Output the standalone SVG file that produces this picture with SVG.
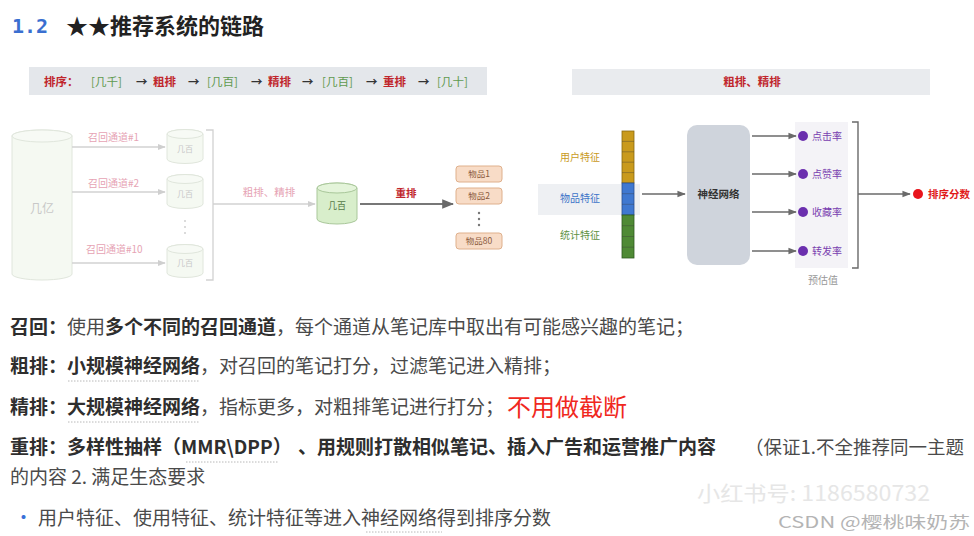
<svg xmlns="http://www.w3.org/2000/svg" width="974" height="536" viewBox="0 0 974 536">
<defs>
<style>
text{font-family:"Noto Sans CJK SC","Noto Sans",sans-serif;}
.sm{font-size:10px;}
.pink{fill:#e6a3b4;}
.fade{fill:#c8c8c8;}
.cylF{fill:#f5f9f2;stroke:#e0e6dc;stroke-width:1;}
.ln{stroke:#d2d2d2;stroke-width:1.3;fill:none;}
.dk{stroke:#6a6a6a;stroke-width:1.4;fill:none;}
.item rect{fill:#f8dcc7;stroke:#dfb08c;stroke-width:1;}
.item text{font-size:8.5px;fill:#8a5a3c;text-anchor:middle;}
.pur{font-size:10px;fill:#7a3fb0;}
.body{font-size:19px;fill:#4a4a4a;}
.b{font-weight:bold;fill:#2e2e2e;}
.ul{stroke:#b8b8b8;stroke-width:1;stroke-dasharray:1.5 1.5;}
</style>
<marker id="ah" viewBox="0 0 10 10" refX="9" refY="5" markerWidth="6" markerHeight="6" orient="auto">
<path d="M0,1 L10,5 L0,9 z" fill="#6a6a6a"/>
</marker>
<marker id="ahl" viewBox="0 0 10 10" refX="9" refY="5" markerWidth="6" markerHeight="6" orient="auto">
<path d="M0,1 L10,5 L0,9 z" fill="#cfcfcf"/>
</marker>
</defs>
<rect width="974" height="536" fill="#ffffff"/>

<!-- title -->
<g id="title">
<text x="12" y="33" font-size="20" font-weight="bold" fill="#3a6fd0" style="font-family:'DejaVu Sans Mono',monospace">1.2</text>
<text x="66" y="34" font-size="22" font-weight="bold" fill="#222">★★推荐系统的链路</text>
</g>

<!-- left banner -->
<g id="banner-left">
<rect x="29" y="67" width="458" height="28" fill="#e4e7eb"/>
<text y="86" font-size="11.5" font-weight="bold">
<tspan x="44" fill="#c0262c">排序：</tspan>
<tspan x="91" fill="#5f9a50" font-weight="normal">[几千]</tspan>
<tspan x="136" fill="#333">→</tspan>
<tspan x="153" fill="#c0262c">粗排</tspan>
<tspan x="188" fill="#333">→</tspan>
<tspan x="207" fill="#5f9a50" font-weight="normal">[几百]</tspan>
<tspan x="251" fill="#333">→</tspan>
<tspan x="268" fill="#c0262c">精排</tspan>
<tspan x="302" fill="#333">→</tspan>
<tspan x="322" fill="#5f9a50" font-weight="normal">[几百]</tspan>
<tspan x="366" fill="#333">→</tspan>
<tspan x="383" fill="#c0262c">重排</tspan>
<tspan x="418" fill="#333">→</tspan>
<tspan x="437" fill="#5f9a50" font-weight="normal">[几十]</tspan>
</text>
</g>

<!-- left diagram nodes -->
<g id="pool">
<path class="cylF" d="M12 136 A30 6 0 0 1 72 136 V274 A30 6 0 0 1 12 274 Z"/>
<ellipse cx="42" cy="136" rx="30" ry="6" fill="#f7faf5" stroke="#e0e6dc"/>
<text x="42" y="213" font-size="12" class="fade" text-anchor="middle">几亿</text>
</g>
<g id="recall1">
<path class="cylF" d="M167 134 A18 4.5 0 0 1 203 134 V159 A18 4.5 0 0 1 167 159 Z"/>
<ellipse cx="185" cy="134" rx="18" ry="4.5" fill="#f7faf5" stroke="#e0e6dc"/>
<text x="185" y="152" font-size="8" class="fade" text-anchor="middle">几百</text>
</g>
<g id="recall2">
<path class="cylF" d="M167 179 A18 4.5 0 0 1 203 179 V204 A18 4.5 0 0 1 167 204 Z"/>
<ellipse cx="185" cy="179" rx="18" ry="4.5" fill="#f7faf5" stroke="#e0e6dc"/>
<text x="185" y="197" font-size="8" class="fade" text-anchor="middle">几百</text>
</g>
<g id="recall-dots">
<circle cx="185" cy="221" r="1" fill="#cfcfcf"/>
<circle cx="185" cy="227" r="1" fill="#cfcfcf"/>
<circle cx="185" cy="233" r="1" fill="#cfcfcf"/>
</g>
<g id="recall10">
<path class="cylF" d="M167 249 A18 4.5 0 0 1 203 249 V273 A18 4.5 0 0 1 167 273 Z"/>
<ellipse cx="185" cy="249" rx="18" ry="4.5" fill="#f7faf5" stroke="#e0e6dc"/>
<text x="185" y="266" font-size="8" class="fade" text-anchor="middle">几百</text>
</g>
<g id="merged">
<path d="M317 188 A20 5 0 0 1 357 188 V219 A20 5 0 0 1 317 219 Z" fill="#d8eecb" stroke="#a9c79a"/>
<ellipse cx="337" cy="188" rx="20" ry="5" fill="#e4f4da" stroke="#a9c79a"/>
<text x="337" y="209" font-size="9" fill="#557a48" text-anchor="middle">几百</text>
</g>
<g id="items">
<g class="item" id="item1"><rect x="456" y="166" width="46" height="16" rx="3"/><text x="479" y="177">物品1</text></g>
<g class="item" id="item2"><rect x="456" y="188" width="46" height="16" rx="3"/><text x="479" y="199">物品2</text></g>
<g id="item-dots">
<circle cx="479" cy="213" r="1.2" fill="#777"/>
<circle cx="479" cy="219" r="1.2" fill="#777"/>
<circle cx="479" cy="225" r="1.2" fill="#777"/>
</g>
<g class="item" id="item80"><rect x="456" y="233" width="46" height="16" rx="3"/><text x="479" y="244">物品80</text></g>
</g>

<!-- right banner -->
<g id="banner-right">
<rect x="572" y="69" width="358" height="26" fill="#e9ebee"/>
<text x="752" y="86" font-size="11.5" font-weight="bold" fill="#c0262c" text-anchor="middle">粗排、精排</text>
</g>

<g id="features">
<rect x="538" y="184" width="102" height="31" fill="#eef0f3"/>
<text x="580" y="161" font-size="10" fill="#c99a1c" text-anchor="middle">用户特征</text>
<text x="580" y="202" font-size="10" fill="#3c74c8" text-anchor="middle">物品特征</text>
<text x="580" y="239" font-size="10" fill="#5d9142" text-anchor="middle">统计特征</text>
<rect x="622" y="131" width="12" height="52" fill="#c99a1c" stroke="#8a6a10" stroke-width="0.8"/>
<rect x="622" y="183" width="12" height="32" fill="#3f78d0" stroke="#2a4f90" stroke-width="0.8"/>
<rect x="622" y="215" width="12" height="43" fill="#4f8a35" stroke="#2f5a20" stroke-width="0.8"/>
<path d="M622 141.4H634M622 151.8H634M622 162.2H634M622 172.6H634M622 193.7H634M622 204.3H634M622 225.7H634M622 236.5H634M622 247.2H634" stroke="#3a3a3a" stroke-width="0.6" opacity="0.6"/>
</g>

<g id="nn">
<rect x="687" y="125" width="63" height="140" rx="10" fill="#cfd4dc"/>
<text x="718.5" y="198" font-size="10.5" font-weight="bold" fill="#333" text-anchor="middle">神经网络</text>
</g>

<g id="outputs">
<rect x="795" y="122" width="53" height="146" fill="#f4f3f7"/>
<circle cx="803" cy="136" r="5" fill="#6b2fae"/>
<text x="812" y="140" class="pur">点击率</text>
<circle cx="803" cy="174" r="5" fill="#6b2fae"/>
<text x="812" y="178" class="pur">点赞率</text>
<circle cx="803" cy="212" r="5" fill="#6b2fae"/>
<text x="812" y="216" class="pur">收藏率</text>
<circle cx="803" cy="251" r="5" fill="#6b2fae"/>
<text x="812" y="255" class="pur">转发率</text>
<text x="823" y="284" font-size="10" fill="#999" text-anchor="middle">预估值</text>
</g>

<g id="score">
<circle cx="918" cy="194" r="5" fill="#e8141c"/>
<text x="928" y="198" font-size="10.5" font-weight="bold" fill="#e01a1a">排序分数</text>
</g>

<!-- connectors -->
<g id="connectors">
<line class="ln" x1="72" y1="147" x2="165" y2="147" marker-end="url(#ahl)"/>
<line class="ln" x1="72" y1="192" x2="165" y2="192" marker-end="url(#ahl)"/>
<line class="ln" x1="72" y1="263" x2="165" y2="263" marker-end="url(#ahl)"/>
<path class="ln" d="M206 130H213V280H206M213 204H217"/>
<line class="ln" x1="217" y1="204" x2="315" y2="204" marker-end="url(#ahl)"/>
<line x1="360" y1="204" x2="453" y2="204" stroke="#777" stroke-width="2" marker-end="url(#ah)"/>
<line class="dk" x1="642" y1="194" x2="685" y2="194" marker-end="url(#ah)"/>
<line class="dk" x1="752" y1="136" x2="796" y2="136" marker-end="url(#ah)"/>
<line class="dk" x1="752" y1="174" x2="796" y2="174" marker-end="url(#ah)"/>
<line class="dk" x1="752" y1="212" x2="796" y2="212" marker-end="url(#ah)"/>
<line class="dk" x1="752" y1="251" x2="796" y2="251" marker-end="url(#ah)"/>
<path class="dk" d="M852 122H858V268H852M858 194H862"/>
<line class="dk" x1="862" y1="194" x2="910" y2="194" marker-end="url(#ah)"/>
</g>

<!-- connector labels -->
<g id="labels">
<text x="88" y="141" class="sm pink">召回通道#1</text>
<text x="88" y="187" class="sm pink">召回通道#2</text>
<text x="86" y="253" class="sm pink">召回通道#10</text>
<text x="269" y="196" font-size="10.5" class="pink" text-anchor="middle">粗排、精排</text>
<text x="406" y="197" font-size="10.5" font-weight="bold" fill="#c0262c" text-anchor="middle">重排</text>
</g>

<!-- body text -->
<g id="notes">
<text y="334" class="body" x="10"><tspan class="b">召回：</tspan><tspan>使用</tspan><tspan class="b">多个不同的召回通道</tspan><tspan>，每个通道从笔记库中取出有可能感兴趣的笔记；</tspan></text>
<text y="373" class="body" x="10"><tspan class="b">粗排：</tspan><tspan class="b">小规模神经网络</tspan><tspan>，对召回的笔记打分，过滤笔记进入精排；</tspan></text>
<line class="ul" x1="68" y1="381" x2="200" y2="381"/>
<text y="414" class="body" x="10"><tspan class="b">精排：</tspan><tspan class="b">大规模神经网络</tspan><tspan>，指标更多，对粗排笔记进行打分；</tspan></text>
<line class="ul" x1="68" y1="422" x2="200" y2="422"/>
<text x="507" y="416" font-size="24" fill="#f0281e">不用做截断</text>
<text y="454" class="body"><tspan x="10" class="b">重排：多样性抽样（MMR\DPP）</tspan><tspan x="298" class="b">、用规则打散相似笔记、插入广告和运营推广内容</tspan><tspan x="745" font-size="18.5">（保证1.不全推荐同一主题</tspan></text>
<line class="ul" x1="186" y1="462" x2="278" y2="462"/>
<text x="10" y="484" class="body" font-size="18">的内容 2. 满足生态要求</text>
<text x="14" y="525" font-size="19" fill="#3a6fd8">•</text>
<text x="38" y="525" class="body" font-size="18.8">用户特征、使用特征、统计特征等进入神经网络得到排序分数</text>
<line class="ul" x1="366" y1="532" x2="442" y2="532"/>
</g>

<g id="watermarks">
<text x="697" y="501" font-size="21" fill="#e6e6e6" textLength="233" lengthAdjust="spacingAndGlyphs">小红书号: 1186580732</text>
<text x="778" y="528" font-size="16" fill="#b4b4b4" textLength="192" lengthAdjust="spacingAndGlyphs">CSDN @樱桃味奶苏</text>
</g>
</svg>
